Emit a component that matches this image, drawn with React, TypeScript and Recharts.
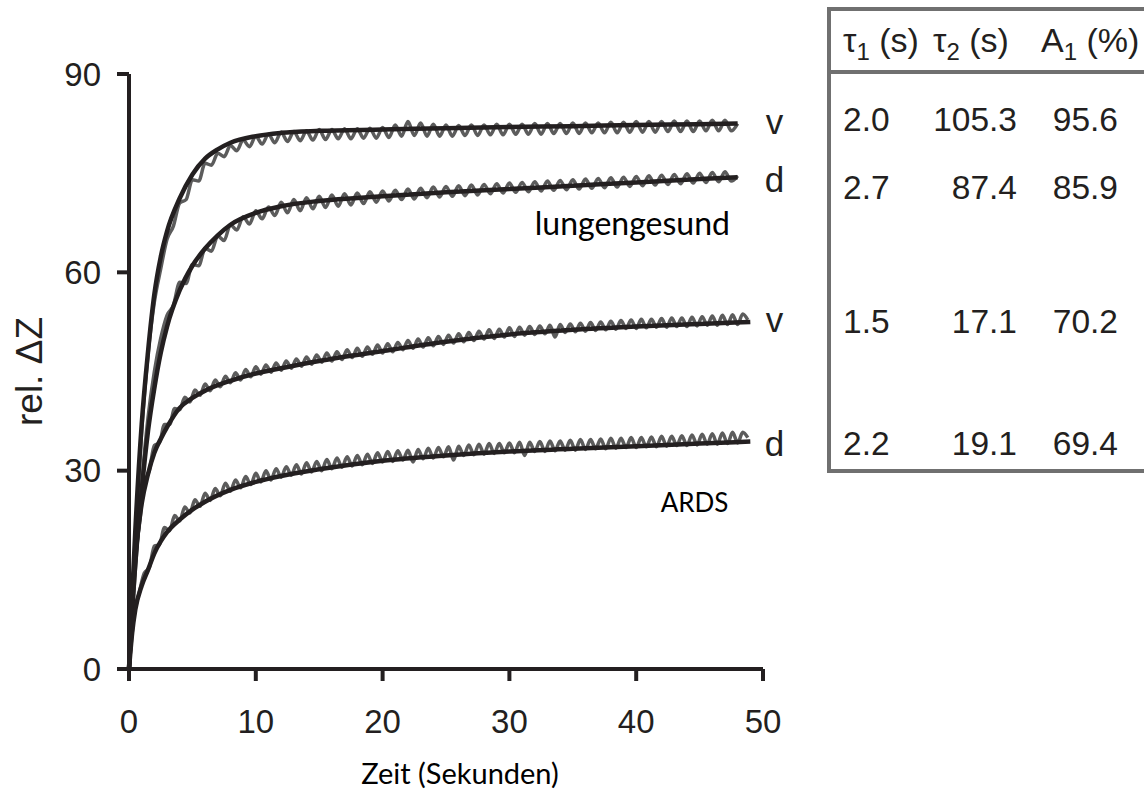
import { LineChart, Line, XAxis, YAxis, ReferenceDot, Label } from 'recharts'

// axes
const xTicks = [0, 10, 20, 30, 40, 50]
const yTicks = [0, 30, 60, 90]
const xTitle = 'Zeit (Sekunden)'
const yTitle = 'rel. ΔZ'

// fitted curves (black)
const healthyFitTimes = [0, 0.25, 0.5, 1, 1.5, 2, 2.5, 3, 4, 5, 6, 7, 8, 10, 12, 15, 20, 25, 30, 35, 40, 45, 48]
const healthyVFit = [0, 11, 21, 37, 48, 56.7, 62.3, 66.2, 71.2, 74.8, 77.2, 78.6, 79.6, 80.6, 81.1, 81.4, 81.6, 81.8, 82.0, 82.1, 82.3, 82.4, 82.5]
const healthyDFit = [0, 9, 16, 27, 36, 42.5, 47.8, 51.8, 57.3, 61, 63.6, 65.6, 67.2, 69, 70, 70.8, 71.5, 72.1, 72.6, 73.1, 73.6, 74.1, 74.4]

const ardsFitTimes = [0, 0.25, 0.5, 1, 1.5, 2, 2.5, 3, 4, 5, 6, 8, 10, 12, 15, 20, 25, 30, 35, 40, 45, 49]
const ardsVFit = [0, 10, 17, 25, 29.5, 32.7, 34.8, 36.6, 39.5, 41, 42.1, 43.6, 44.7, 45.5, 46.6, 48.1, 49.5, 50.6, 51.3, 51.8, 52.2, 52.5]
const ardsDFit = [0, 5.5, 9, 12.6, 15, 17.5, 19.3, 20.7, 22.6, 24.1, 25.3, 27.1, 28.3, 29.2, 30.2, 31.5, 32.3, 32.9, 33.3, 33.7, 34.1, 34.4]

// measured signals (grey), sampled every healthyStep / ardsStep seconds
const healthyStep = 0.5
const healthyVMeasured = [
  0, 20, 36, 47.5, 55.5, 60.5, 65, 67, 70.5, 71,
  74, 73.8, 76.5, 76.2, 78, 77.5, 79.2, 78.4, 80, 79,
  80.6, 79.4, 80.9, 79.6, 81.2, 79.8, 81.3, 79.9, 81.4, 80,
  81.6, 80.1, 81.6, 80.2, 81.7, 80.2, 81.7, 80.3, 81.8, 80.3,
  81.9, 80.4, 82.3, 80.6, 82.8, 80.7, 82.6, 80.6, 82.4, 80.6,
  82.3, 80.6, 82.2, 80.7, 82.3, 80.7, 82.3, 80.8, 82.4, 80.8,
  82.4, 80.9, 82.4, 80.9, 82.5, 80.9, 82.5, 81, 82.5, 81,
  82.6, 81, 82.6, 81.1, 82.6, 81.1, 82.7, 81.1, 82.7, 81.2,
  82.8, 81.2, 82.8, 81.2, 82.8, 81.3, 82.9, 81.3, 82.9, 81.3,
  82.9, 81.4, 83, 81.4, 83, 81.4, 82.5,
]
const healthyDMeasured = [
  0, 15, 28, 38, 45, 50, 53.5, 55, 58.5, 58.3,
  61.2, 61, 63.6, 63.2, 65.5, 64.8, 67.2, 66.4, 68.4, 67.3,
  69.3, 68.1, 69.9, 68.6, 70.6, 69, 71, 69.3, 71.3, 69.6,
  71.5, 69.8, 71.7, 70, 71.9, 70.2, 72, 70.4, 72.2, 70.6,
  72.3, 70.8, 72.4, 71, 72.6, 71.1, 72.7, 71.3, 72.9, 71.4,
  73, 71.5, 73.1, 71.6, 73.2, 71.7, 73.3, 71.9, 73.4, 72,
  73.5, 72.1, 73.6, 72.2, 73.7, 72.3, 73.8, 72.4, 73.9, 72.5,
  74, 72.6, 74.1, 72.7, 74.2, 72.8, 74.3, 72.9, 74.4, 73,
  74.5, 73.1, 74.6, 73.2, 74.7, 73.3, 74.8, 73.4, 74.9, 73.5,
  75, 73.6, 75.1, 73.7, 75.2, 73.8, 74.6,
]

const ardsStep = 0.4
const ardsVMeasured = [
  0, 15, 21.5, 28, 30, 33.8, 34.2, 37, 37, 39.4,
  39.2, 41.1, 40.4, 42.2, 41.4, 43.1, 42.1, 43.7, 42.7, 44.3,
  43.3, 44.8, 43.7, 45.3, 44.2, 45.7, 44.6, 46, 44.9, 46.3,
  45.2, 46.6, 45.5, 46.9, 45.8, 47.2, 46.1, 47.5, 46.4, 47.8,
  46.6, 48, 46.8, 48.3, 47.1, 48.5, 47.3, 48.7, 47.6, 49,
  47.8, 49.2, 48, 49.4, 48.3, 49.7, 48.5, 49.9, 48.7, 50.1,
  48.9, 50.3, 49.1, 50.5, 49.3, 50.7, 49.5, 50.9, 49.7, 51.1,
  49.9, 51.3, 50, 51.4, 50.2, 51.6, 50.3, 51.7, 50.5, 51.8,
  50.6, 51.9, 50.7, 52, 50.2, 52.1, 50.9, 52.2, 51, 52.3,
  51.1, 52.4, 51.2, 52.5, 51.3, 52.6, 51.4, 52.7, 51.5, 52.8,
  51.5, 52.9, 51.6, 52.9, 51.7, 53, 51.7, 53.1, 51.8, 53.1,
  51.8, 53.2, 51.9, 53.3, 52, 53.4, 52, 53.5, 52.1, 53.6,
  52.1, 53.7, 52.8,
]
const ardsDMeasured = [
  0, 8, 11.5, 14.5, 15.3, 18.6, 18.8, 21.4, 20.9, 23.2,
  22.4, 24.5, 23.6, 25.6, 24.6, 26.6, 25.5, 27.3, 26.2, 28.1,
  26.9, 28.6, 27.4, 29.1, 27.9, 29.6, 28.3, 30, 28.6, 30.3,
  29, 30.6, 29.3, 30.9, 29.5, 31.2, 29.8, 31.4, 30, 31.7,
  30.3, 31.9, 30.5, 32.1, 30.7, 32.3, 30.9, 32.5, 31.1, 32.7,
  31.3, 32.9, 31.4, 33, 31.6, 33.1, 31.3, 33.2, 31.8, 33.4,
  31.9, 33.5, 32.1, 33.6, 31.6, 33.7, 32.3, 33.9, 32.4, 34,
  32.5, 34.1, 32.6, 34.1, 32.7, 34.2, 32.7, 34.3, 32.3, 34.3,
  32.9, 34.4, 32.9, 34.5, 33, 34.5, 33.1, 34.6, 33.1, 34.7,
  33.2, 34.7, 33.3, 34.8, 33.3, 34.9, 33.4, 34.9, 33.5, 35,
  33.5, 35, 33.6, 35.1, 33.6, 35.2, 33.7, 35.2, 33.8, 35.3,
  33.8, 35.4, 33.9, 35.5, 34, 35.6, 34, 35.7, 34.1, 35.8,
  34.2, 35.8, 35,
]

// curve names at the right end, and group labels
const curveNames = ['v', 'd', 'v', 'd']
const groupLabels = ['lungengesund', 'ARDS']

// fit parameter table
const tau1 = [2.0, 2.7, 1.5, 2.2]
const tau2 = [105.3, 87.4, 17.1, 19.1]
const a1 = [95.6, 85.9, 70.2, 69.4]

const INK = '#231f20'
const GREY = '#5c5c5c'
const ARIAL = '"Liberation Sans", Arial, sans-serif'
const CALIBRI = 'Lato, "Open Sans", sans-serif'

const fitted = (times: number[], values: number[]) => times.map((t, i) => ({ t, y: values[i] }))
const sampled = (values: number[], step: number) =>
  values.map((y, i) => ({ t: Math.round(i * step * 100) / 100, y }))

const measured = [
  sampled(healthyVMeasured, healthyStep),
  sampled(healthyDMeasured, healthyStep),
  sampled(ardsVMeasured, ardsStep),
  sampled(ardsDMeasured, ardsStep),
]
const fits = [
  fitted(healthyFitTimes, healthyVFit),
  fitted(healthyFitTimes, healthyDFit),
  fitted(ardsFitTimes, ardsVFit),
  fitted(ardsFitTimes, ardsDFit),
]

function YTitle({ viewBox }: any) {
  const cx = viewBox.x + 29
  const cy = viewBox.y + viewBox.height / 2
  return (
    <text
      x={cx}
      y={cy}
      transform={`rotate(-90 ${cx} ${cy})`}
      textAnchor="middle"
      dominantBaseline="central"
      fontSize={37}
      fontFamily={ARIAL}
      fill={INK}
    >
      {yTitle}
    </text>
  )
}

function ParamTable() {
  const rowBaselines = [131, 199, 333, 455]
  const headStyle = { fontSize: 34, fontFamily: ARIAL, fill: INK }
  return (
    <svg width={1144} height={793} style={{ position: 'absolute', left: 0, top: 0 }}>
      <rect x={829} y={9} width={400} height={462} fill="none" stroke="#707070" strokeWidth={4} />
      <line x1={829} y1={72} x2={1144} y2={72} stroke="#707070" strokeWidth={4} />
      <text x={843} y={52} {...headStyle}>
        τ<tspan fontSize={24} dy={8}>1</tspan>
        <tspan dy={-8}> (s)</tspan>
      </text>
      <text x={933} y={52} {...headStyle}>
        τ<tspan fontSize={24} dy={8}>2</tspan>
        <tspan dy={-8}> (s)</tspan>
      </text>
      <text x={1041} y={52} {...headStyle}>
        A<tspan fontSize={24} dy={8}>1</tspan>
        <tspan dy={-8}> (%)</tspan>
      </text>
      {tau1.map((v, i) => (
        <g key={i} fontSize={33.5} fontFamily={ARIAL} fill={INK}>
          <text x={843} y={rowBaselines[i]}>{v.toFixed(1)}</text>
          <text x={1017} y={rowBaselines[i]} textAnchor="end">{tau2[i].toFixed(1)}</text>
          <text x={1118} y={rowBaselines[i]} textAnchor="end">{a1[i].toFixed(1)}</text>
        </g>
      ))}
    </svg>
  )
}

export default function App() {
  return (
    <div style={{ position: 'absolute', left: 0, top: 0, width: 1144, height: 793, overflow: 'hidden', background: '#fff' }}>
      <LineChart width={1144} height={793} margin={{ top: 74, right: 381, bottom: 0, left: 0 }}>
        <XAxis
          dataKey="t"
          type="number"
          domain={[0, 50]}
          ticks={xTicks}
          height={124}
          stroke={INK}
          strokeWidth={4}
          tickSize={12}
          tickMargin={29}
          tick={{ fill: INK, fontSize: 33, fontFamily: ARIAL }}
          label={{ value: xTitle, position: 'insideBottom', offset: 9, dx: 14, fill: '#000', fontSize: 29, fontFamily: CALIBRI }}
        />
        <YAxis
          type="number"
          domain={[0, 90]}
          ticks={yTicks}
          width={129}
          stroke={INK}
          strokeWidth={4}
          tickSize={12}
          tickMargin={16}
          tick={{ fill: INK, fontSize: 33, fontFamily: ARIAL }}
        >
          <Label position="insideLeft" content={YTitle} />
        </YAxis>
        {measured.map((d, i) => (
          <Line
            key={`m${i}`}
            data={d}
            dataKey="y"
            type="monotone"
            stroke={GREY}
            strokeWidth={3.5}
            dot={false}
            isAnimationActive={false}
          />
        ))}
        {fits.map((d, i) => (
          <Line
            key={`f${i}`}
            data={d}
            dataKey="y"
            type="monotone"
            stroke={INK}
            strokeWidth={4.5}
            dot={false}
            isAnimationActive={false}
          />
        ))}
        {fits.map((d, i) => (
          <ReferenceDot
            key={`n${i}`}
            x={50.9}
            y={d[d.length - 1].y}
            r={0}
            fill="none"
            stroke="none"
            ifOverflow="visible"
            label={{ value: curveNames[i], position: 'center', fill: INK, fontSize: 35, fontFamily: ARIAL, dy: curveNames[i] === 'v' ? -2 : 2 }}
          />
        ))}
        <ReferenceDot
          x={39.7}
          y={67.3}
          r={0}
          fill="none"
          stroke="none"
          ifOverflow="visible"
          label={{ value: groupLabels[0], position: 'center', fill: '#000', fontSize: 32, fontFamily: CALIBRI }}
        />
        <ReferenceDot
          x={44.6}
          y={25.1}
          r={0}
          fill="none"
          stroke="none"
          ifOverflow="visible"
          label={{ value: groupLabels[1], position: 'center', fill: '#000', fontSize: 26, fontFamily: CALIBRI }}
        />
      </LineChart>
      <ParamTable />
    </div>
  )
}
